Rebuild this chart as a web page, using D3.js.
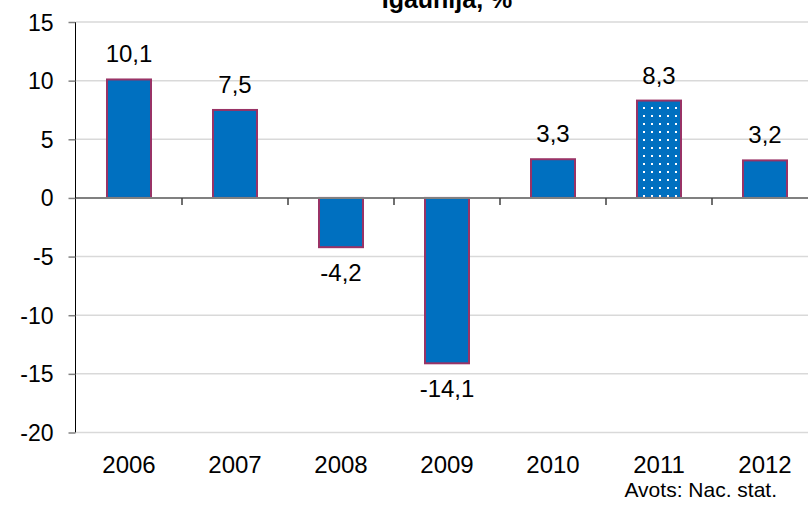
<!DOCTYPE html>
<html>
<head>
<meta charset="utf-8">
<script src="https://cdn.jsdelivr.net/npm/d3@7"></script>
<style>
  html, body { margin: 0; padding: 0; background: #fff; }
  svg { display: block; font-family: "Liberation Sans", Arial, sans-serif; }
</style>
</head>
<body>
<svg id="chart" width="808" height="505"></svg>
<script>
const title = "Igaunija, %";
const years = ["2006", "2007", "2008", "2009", "2010", "2011", "2012"];
const values = [10.1, 7.5, -4.2, -14.1, 3.3, 8.3, 3.2];
const labels = ["10,1", "7,5", "-4,2", "-14,1", "3,3", "8,3", "3,2"];
const patterned = ["2011"];
const yTicks = [15, 10, 5, 0, -5, -10, -15, -20];
const source = "Avots: Nac. stat.";

const svg = d3.select("#chart");
const W = 808, H = 505;

const y = d3.scaleLinear().domain([-20, 15]).range([432.5, 22]);
const x = d3.scaleBand().domain(years).range([76, 818]).paddingInner(0).paddingOuter(0);
const barW = x.bandwidth() * 0.415;

// pattern
const defs = svg.append("defs");
const pat = defs.append("pattern").attr("id", "dots")
  .attr("patternUnits", "userSpaceOnUse").attr("width", 8).attr("height", 8)
  .attr("x", 0).attr("y", 0);
pat.append("rect").attr("width", 8).attr("height", 8).attr("fill", "#0070C0");
pat.append("rect").attr("x", 3).attr("y", 3).attr("width", 2).attr("height", 2).attr("fill", "#fff");

// gridlines
svg.append("g").selectAll("line").data(yTicks.filter(d => d !== 0)).join("line")
  .attr("x1", 76).attr("x2", W)
  .attr("y1", d => y(d)).attr("y2", d => y(d))
  .attr("stroke", "#d9d9d9").attr("stroke-width", 1.5);

// y axis
const yAxis = d3.axisLeft(y).tickValues(yTicks).tickSize(7).tickFormat(d => d);
const gy = svg.append("g").attr("transform", "translate(75.5,0)").call(yAxis);
gy.select(".domain").attr("stroke", "#000").attr("d", `M0,${y(15)}V${y(-20)}`);
gy.selectAll(".tick line").attr("stroke", "#808080").attr("stroke-width", 1.5);
gy.selectAll(".tick text").attr("font-size", 23).attr("fill", "#000")
  .attr("font-family", "Liberation Sans, Arial, sans-serif")
  .attr("x", -22).attr("dy", "0.35em");

// bars
svg.append("g").selectAll("rect").data(years).join("rect")
  .attr("x", (d) => x(d) + (x.bandwidth() - barW) / 2)
  .attr("y", (d, i) => y(Math.max(0, values[i])))
  .attr("width", barW)
  .attr("height", (d, i) => Math.abs(y(values[i]) - y(0)))
  .attr("fill", d => patterned.includes(d) ? "url(#dots)" : "#0070C0")
  .attr("stroke", "#993366").attr("stroke-width", 2);

// zero axis with tick marks between categories
svg.append("line").attr("x1", 76).attr("x2", W).attr("y1", y(0)).attr("y2", y(0))
  .attr("stroke", "#808080").attr("stroke-width", 2);
svg.append("g").selectAll("line").data(years.slice(1)).join("line")
  .attr("x1", d => x(d)).attr("x2", d => x(d))
  .attr("y1", y(0)).attr("y2", y(0) + 7)
  .attr("stroke", "#404040").attr("stroke-width", 1.5);

// data labels
svg.append("g").selectAll("text").data(years).join("text")
  .attr("x", d => x(d) + x.bandwidth() / 2)
  .attr("y", (d, i) => values[i] >= 0 ? y(values[i]) - 17 : y(values[i]) + 34)
  .attr("text-anchor", "middle").attr("font-size", 24).attr("fill", "#000")
  .text((d, i) => labels[i]);

// year labels
svg.append("g").selectAll("text").data(years).join("text")
  .attr("x", d => x(d) + x.bandwidth() / 2)
  .attr("y", 473)
  .attr("text-anchor", "middle").attr("font-size", 24).attr("fill", "#000")
  .text(d => d);

// title
svg.append("text").attr("x", 447).attr("y", 8).attr("text-anchor", "middle")
  .attr("font-size", 25).attr("font-weight", "bold").attr("fill", "#000").text(title);

// source
svg.append("text").attr("x", 777).attr("y", 497).attr("text-anchor", "end")
  .attr("font-size", 21).attr("fill", "#000").text(source);
</script>
</body>
</html>
